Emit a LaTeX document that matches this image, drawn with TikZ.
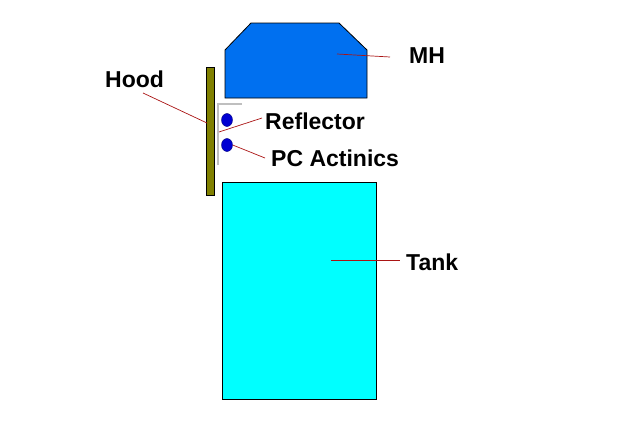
\documentclass[tikz,border=0pt]{standalone}
\usepackage{fontspec}
\setmainfont{Liberation Sans}
\usetikzlibrary{positioning,shapes.geometric}
\definecolor{LampBlue}{RGB}{0,112,240}
\definecolor{WaterCyan}{RGB}{0,255,255}
\definecolor{HoodOlive}{RGB}{128,128,0}
\definecolor{BulbBlue}{RGB}{0,0,210}
\definecolor{LeaderRed}{RGB}{170,20,20}
\tikzset{
  partlabel/.style={anchor=west,inner sep=0pt,font=\fontsize{23}{26}\selectfont\bfseries},
  leader/.style={draw=LeaderRed,line width=0.7pt},
  bulb/.style={draw=BulbBlue!60!black,fill=BulbBlue,ellipse,minimum width=11pt,
    minimum height=13pt,inner sep=0pt},
}
\begin{document}
\begin{tikzpicture}[x=1pt,y=-1pt]
  \useasboundingbox (0,0) rectangle (626,437);
  % tank
  \node[draw=black,fill=WaterCyan,line width=0.8pt,minimum width=154pt,minimum height=217pt,
    inner sep=0pt] (tank) at (299,290.5) {};
  % metal halide
  \draw[fill=LampBlue,line width=0.8pt] (225,50) -- (251,23) -- (339,23) -- (367,50)
    -- (367,98) -- (225,98) -- cycle;
  \coordinate (mhin) at (337,54);
  % hood
  \node[draw=black,fill=HoodOlive,line width=0.6pt,minimum width=8pt,minimum height=128pt,
    inner sep=0pt] (hood) at (210,131) {};
  % reflector
  \draw[gray!50,line width=1.6pt] (242,104) -- (218,104) -- (218,165);
  \coordinate (refl) at (219,132);
  % actinic bulbs
  \node[bulb] (bulbA) at (227,120) {};
  \node[bulb] (bulbB) at (227,145) {};
  \coordinate (tankin) at (331,260);
  % labels
  \node[partlabel] (mh) at (409,56) {MH};
  \node[partlabel] (hoodlbl) at (105,79) {Hood};
  \node[partlabel] (refllbl) at (265,121) {Reflector};
  \node[partlabel] (pclbl) at (271,158) {PC Actinics};
  \node[partlabel] (tanklbl) at (406,262) {Tank};
  % leaders
  \draw[leader] (mhin) -- (390,57) coordinate (mhend);
  \draw[leader] (143,93) -- (207,123);
  \draw[leader] (refl) -- (262,118);
  \draw[leader] (bulbB.east) -- (265,158);
  \draw[leader,shorten >=6pt] (tankin) -- (tankin -| tanklbl.west);
\end{tikzpicture}
\end{document}
